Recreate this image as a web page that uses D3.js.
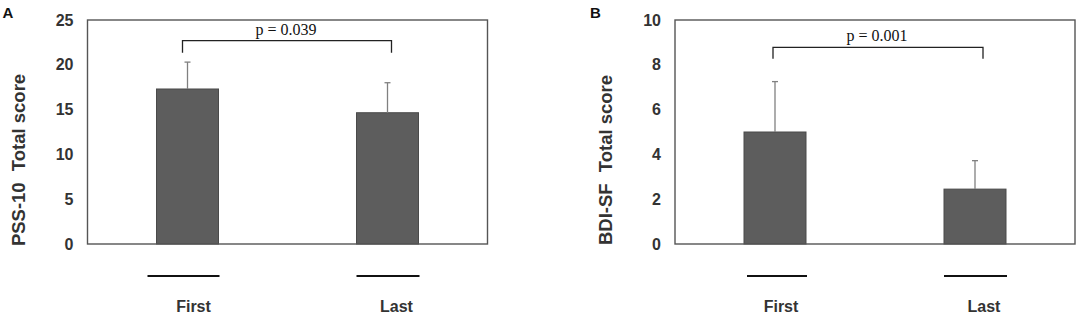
<!DOCTYPE html>
<html><head><meta charset="utf-8">
<script src="https://cdn.jsdelivr.net/npm/d3@7"></script>
<style>body{margin:0;background:#fff}svg{display:block}</style>
</head><body>
<svg id="c" width="1084" height="327"></svg>
<script>
const categories = ["First", "Last"];
const pssMeans = [17.3, 14.65];
const pssErr = [3.0, 3.35];
const pssTicks = [0, 5, 10, 15, 20, 25];
const bdiMeans = [5.0, 2.45];
const bdiErr = [2.25, 1.27];
const bdiTicks = [0, 2, 4, 6, 8, 10];
const pLabels = ["p = 0.039", "p = 0.001"];
const bracketLevels = [[22.7, 21.35], [8.78, 8.27]];
const panelLetters = ["A", "B"];
const yTitles = [["PSS-10", "Total score"], ["BDI-SF", "Total score"]];

(function () {
const svg = d3.select("#c");
const panels = [
  {x0: 87.5, means: pssMeans, err: pssErr, ticks: pssTicks, max: 25, p: pLabels[0], br: bracketLevels[0], brOff: [-5, 4], letter: panelLetters[0], title: yTitles[0], underlineExtra: [-9, 0]},
  {x0: 675, means: bdiMeans, err: bdiErr, ticks: bdiTicks, max: 10, p: pLabels[1], br: bracketLevels[1], brOff: [-2, 8], letter: panelLetters[1], title: yTitles[1], underlineExtra: [3, 0]}
];
const W = 400, plotTop = 20, plotBottom = 244;

panels.forEach(P => {
  const g = svg.append("g");
  const x = d3.scaleBand().domain(categories).range([P.x0, P.x0 + W]).paddingInner(0.69).paddingOuter(0.345);
  const y = d3.scaleLinear().domain([0, P.max]).range([plotBottom, plotTop]);

  const ax = g.append("g").attr("transform", `translate(${P.x0},0)`)
    .call(d3.axisLeft(y).tickValues(P.ticks).tickSize(0).tickPadding(14).tickFormat(d3.format("d")));
  ax.select(".domain").remove();
  ax.selectAll("text").attr("font-family", "Arial, 'Liberation Sans', sans-serif")
    .attr("font-size", 16).attr("font-weight", "bold").attr("fill", "#333");

  g.selectAll("rect.bar").data(categories).join("rect").attr("class", "bar")
    .attr("x", d => x(d)).attr("width", x.bandwidth())
    .attr("y", (d, i) => y(P.means[i])).attr("height", (d, i) => y(0) - y(P.means[i]))
    .attr("fill", "#5d5d5d").attr("stroke", "#4a4a4a").attr("stroke-width", 1);

  categories.forEach((d, i) => {
    const cx = x(d) + x.bandwidth() / 2;
    g.append("line").attr("x1", cx).attr("x2", cx)
      .attr("y1", y(P.means[i])).attr("y2", y(P.means[i] + P.err[i]))
      .attr("stroke", "#808080").attr("stroke-width", 1.3);
    g.append("line").attr("x1", cx - 3).attr("x2", cx + 3)
      .attr("y1", y(P.means[i] + P.err[i])).attr("y2", y(P.means[i] + P.err[i]))
      .attr("stroke", "#808080").attr("stroke-width", 1.3);
  });

  g.append("rect").attr("x", P.x0).attr("y", plotTop).attr("width", W).attr("height", plotBottom - plotTop)
    .attr("fill", "none").attr("stroke", "#555").attr("stroke-width", 1.4);

  const bx1 = x(categories[0]) + x.bandwidth() / 2 + P.brOff[0];
  const bx2 = x(categories[1]) + x.bandwidth() / 2 + P.brOff[1];
  g.append("path")
    .attr("d", `M${bx1},${y(P.br[1])}V${y(P.br[0])}H${bx2}V${y(P.br[1])}`)
    .attr("fill", "none").attr("stroke", "#222").attr("stroke-width", 1.3);
  g.append("text").attr("x", (bx1 + bx2) / 2 - 1).attr("y", y(P.br[0]) - 6)
    .attr("text-anchor", "middle").attr("font-family", "'Times New Roman', 'Liberation Serif', serif")
    .attr("font-size", 16).attr("fill", "#111").text(P.p);

  categories.forEach((d, i) => {
    g.append("line")
      .attr("x1", x(d) + (i === 0 ? P.underlineExtra[0] : 0)).attr("x2", x(d) + x.bandwidth() + 1)
      .attr("y1", 276).attr("y2", 276).attr("stroke", "#111").attr("stroke-width", 2);
    g.append("text").attr("x", x(d) + x.bandwidth() / 2 + (i === 0 ? 6 : 9)).attr("y", 312)
      .attr("text-anchor", "middle").attr("font-family", "Arial, 'Liberation Sans', sans-serif")
      .attr("font-size", 16).attr("font-weight", "bold").attr("fill", "#333").text(d);
  });

  const t = g.append("text").attr("transform", `translate(${P.x0 - 63},${(plotTop + plotBottom) / 2 + 28}) rotate(-90)`)
    .attr("text-anchor", "middle").attr("font-family", "Arial, 'Liberation Sans', sans-serif")
    .attr("font-size", 18.5).attr("font-weight", "bold").attr("fill", "#333");
  t.append("tspan").text(P.title[0]);
  t.append("tspan").attr("dx", 6).text(" " + P.title[1]);

  g.append("text").attr("x", P.x0 - 85).attr("y", 18)
    .attr("font-family", "Arial, 'Liberation Sans', sans-serif")
    .attr("font-size", 15).attr("font-weight", "bold").attr("fill", "#111").text(P.letter);
});
})();
</script>
</body></html>
